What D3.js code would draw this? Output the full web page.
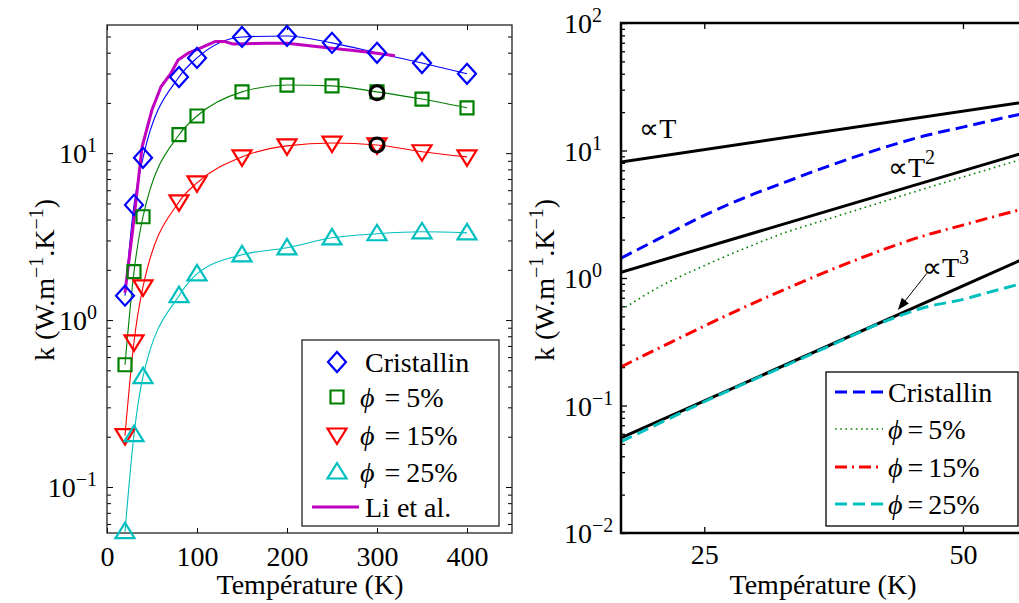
<!DOCTYPE html>
<html><head><meta charset="utf-8">
<script src="https://cdn.jsdelivr.net/npm/d3@7"></script>
<style>
body{margin:0;background:#fff;}
svg text{font-family:"Liberation Serif","Times New Roman",Times,serif;fill:#000;}
</style></head><body>
<script>
// ---------------- DATA ----------------
// Left panel: thermal conductivity vs temperature (markers)
const tempPoints = [20, 30, 40, 80, 100, 150, 200, 250, 300, 350, 400];
const kCristallin = [1.40, 4.90, 9.38, 28.6, 37.2, 49.7, 50.4, 45.8, 39.9, 34.7, 29.9];
const kPhi5  = [0.54, 1.95, 4.16, 12.9, 16.7, 23.3, 25.6, 25.3, 23.3, 21.1, 18.7];
const kPhi15 = [0.203, 0.741, 1.58, 5.11, 6.64, 9.50, 11.06, 11.5, 11.2, 10.2, 9.50];
const kPhi25 = [0.054, 0.206, 0.458, 1.40, 1.89, 2.46, 2.71, 3.11, 3.29, 3.38, 3.33];
// Li et al. reference curve
const liTemp = [20, 29, 39, 50, 60, 71, 79, 90, 103, 120, 131, 140, 177, 200, 250, 274, 300, 320];
const liK    = [1.46, 3.64, 10.9, 18.2, 25.0, 30.1, 36.2, 39.7, 42.5, 46.6, 46.6, 45.1, 45.6, 45.6, 42.5, 41.2, 39.7, 38.3];
// highlighted points (black circles)
const circleTemp = [300, 300];
const circleK = [23.0, 11.2];

// Right panel: low temperature model curves
const lowT = [20, 22, 25, 28, 31, 35, 40, 45, 50, 55, 60];
const lowCristallin = [1.43, 1.99, 3.10, 4.33, 5.62, 7.62, 10.29, 12.98, 15.26, 17.68, 20.1];
const lowPhi5  = [0.56, 0.829, 1.25, 1.73, 2.26, 2.93, 3.89, 4.99, 6.19, 7.53, 8.93];
const lowPhi15 = [0.201, 0.276, 0.420, 0.601, 0.813, 1.15, 1.63, 2.14, 2.60, 3.10, 3.61];
const lowPhi25 = [0.052, 0.0708, 0.107, 0.151, 0.204, 0.294, 0.44, 0.585, 0.68, 0.81, 0.943];
// power-law guides: k = k20 * (T/20)^n
const powerExp = [1, 2, 3];
const powerK20 = [8.13, 1.108, 0.0556];

// ticks / labels
const leftXTicks = [0, 100, 200, 300, 400];
const leftYMajor = [0.1, 1, 10];
const leftYExp = ["\u22121", "0", "1"];
const rightXTicks = [25, 50];
const rightYMajor = [0.01, 0.1, 1, 10, 100];
const rightYExp = ["\u22122", "\u22121", "0", "1", "2"];
const legendLeft = ["Cristallin", "5%", "15%", "25%", "Li et al."];
const legendRight = ["Cristallin", "5%", "15%", "25%"];
const xTitle = "Température (K)";

// ---------------- STYLE ----------------
const C = {blue:"#0000ff", green:"#008000", red:"#ff0000", cyan:"#00bfbf", mag:"#bf00bf"};
const FS = 28, SFS = 20;
const SERIF = '"Liberation Serif","Times New Roman",Times,serif';

const svg = d3.select("body").append("svg").attr("width", 1019).attr("height", 603)
  .attr("font-family", SERIF);

function minorTicks(domain) {
  const out = [];
  for (let e = -3; e <= 2; e++) for (let m = 2; m <= 9; m++) {
    const v = m * Math.pow(10, e);
    if (v >= domain[0] && v <= domain[1]) out.push(v);
  }
  return out;
}

// ---------------- LEFT PANEL ----------------
const xL = d3.scaleLinear().domain([0, 450]).range([107, 512]);
const yL = d3.scaleLog().domain([0.053, 58.6]).range([533, 25]);

const gL = svg.append("g");
gL.append("clipPath").attr("id", "clipL").append("rect")
  .attr("x", xL.range()[0]).attr("y", yL.range()[1])
  .attr("width", xL.range()[1] - xL.range()[0]).attr("height", yL.range()[0] - yL.range()[1]);

function styleAxis(g, w) {
  g.attr("font-family", SERIF);
  g.select(".domain").remove();
  g.selectAll(".tick line").attr("stroke", "#000").attr("stroke-width", w);
  g.selectAll("text").attr("font-size", FS).attr("font-family", SERIF).attr("fill", "#000");
}
[[d3.axisLeft, xL.range()[0]], [d3.axisRight, xL.range()[1]]].forEach(([ax, x]) => {
  gL.append("g").attr("transform", `translate(${x},0)`)
    .call(ax(yL).tickValues(minorTicks(yL.domain())).tickSize(-4).tickFormat(""))
    .call(g => styleAxis(g, 1));
  gL.append("g").attr("transform", `translate(${x},0)`)
    .call(ax(yL).tickValues(leftYMajor).tickSize(-6).tickFormat(""))
    .call(g => styleAxis(g, 1));
});
gL.append("g").attr("transform", `translate(0,${yL.range()[0]})`)
  .call(d3.axisBottom(xL).tickValues(leftXTicks).tickSize(-5).tickPadding(13).tickFormat(d3.format("d")))
  .call(g => styleAxis(g, 1));
gL.append("g").attr("transform", `translate(0,${yL.range()[1]})`)
  .call(d3.axisTop(xL).tickValues(leftXTicks).tickSize(-5).tickFormat(""))
  .call(g => styleAxis(g, 1));
leftYMajor.forEach((v, i) => {
  const t = gL.append("text").attr("x", 97).attr("y", yL(v) + 10).attr("text-anchor", "end").attr("font-size", FS);
  t.append("tspan").text("10");
  t.append("tspan").attr("dy", -11).attr("font-size", SFS).text(leftYExp[i]);
});
gL.append("rect").attr("x", xL.range()[0]).attr("y", yL.range()[1])
  .attr("width", xL.range()[1] - xL.range()[0]).attr("height", yL.range()[0] - yL.range()[1])
  .attr("fill", "none").attr("stroke", "#222").attr("stroke-width", 1.3);

const lineL = d3.line().x(d => xL(d[0])).y(d => yL(d[1])).curve(d3.curveMonotoneX);
const plotL = gL.append("g").attr("clip-path", "url(#clipL)");
const seriesL = [
  {k: kCristallin, c: C.blue, m: "diamond"},
  {k: kPhi5, c: C.green, m: "square"},
  {k: kPhi15, c: C.red, m: "triDown"},
  {k: kPhi25, c: C.cyan, m: "triUp"}
];
seriesL.forEach(s => {
  plotL.append("path").datum(tempPoints.map((t, i) => [t, s.k[i]]))
    .attr("d", lineL).attr("fill", "none").attr("stroke", s.c).attr("stroke-width", 1.1);
});
plotL.append("path").datum(liTemp.map((t, i) => [t, liK[i]]))
  .attr("d", d3.line().x(d => xL(d[0])).y(d => yL(d[1])))
  .attr("fill", "none").attr("stroke", C.mag).attr("stroke-width", 3).attr("stroke-linejoin", "round");

function markerPath(type, cx, cy) {
  switch (type) {
    case "diamond": return `M${cx},${cy - 10}L${cx + 9},${cy}L${cx},${cy + 10}L${cx - 9},${cy}Z`;
    case "square": return `M${cx - 6.5},${cy - 6.5}h13v13h-13Z`;
    case "triDown": return `M${cx - 9.5},${cy - 6.5}L${cx + 9.5},${cy - 6.5}L${cx},${cy + 9}Z`;
    case "triUp": return `M${cx - 9.5},${cy + 6.5}L${cx + 9.5},${cy + 6.5}L${cx},${cy - 9}Z`;
  }
}
seriesL.forEach(s => {
  gL.append("g").selectAll("path").data(tempPoints.map((t, i) => [t, s.k[i]])).join("path")
    .attr("d", d => markerPath(s.m, xL(d[0]), yL(d[1])))
    .attr("fill", "none").attr("stroke", s.c).attr("stroke-width", 2.2).attr("stroke-linejoin", "miter");
});
gL.append("g").selectAll("circle").data(circleTemp.map((t, i) => [t, circleK[i]])).join("circle")
  .attr("cx", d => xL(d[0])).attr("cy", d => yL(d[1])).attr("r", 7)
  .attr("fill", "none").attr("stroke", "#000").attr("stroke-width", 3);

gL.append("text").attr("x", 310).attr("y", 594).attr("text-anchor", "middle").attr("font-size", FS).text(xTitle);
function yTitle(g, x, y) {
  const t = g.append("text").attr("transform", `translate(${x},${y}) rotate(-90)`)
    .attr("text-anchor", "middle").attr("font-size", FS);
  t.append("tspan").text("k (W.m");
  t.append("tspan").attr("dy", -11).attr("font-size", SFS).text("\u22121");
  t.append("tspan").attr("dy", 11).text(".K");
  t.append("tspan").attr("dy", -11).attr("font-size", SFS).text("\u22121");
  t.append("tspan").attr("dy", 11).text(")");
}
yTitle(gL, 54, 280);

gL.append("rect").attr("x", 302).attr("y", 340).attr("width", 197).attr("height", 186)
  .attr("fill", "#fff").attr("stroke", "#222").attr("stroke-width", 1.3);
const legLY = [362, 397, 435, 472, 507];
seriesL.forEach((s, i) => {
  gL.append("path").attr("d", markerPath(s.m, 337, legLY[i]))
    .attr("fill", "none").attr("stroke", s.c).attr("stroke-width", 2.2);
  const t = gL.append("text").attr("x", i === 0 ? 365 : 360).attr("y", legLY[i] + 10).attr("font-size", FS);
  if (i === 0) t.text(legendLeft[0]);
  else {
    t.append("tspan").attr("font-style", "italic").text("\u03d5");
    t.append("tspan").attr("dx", 10).text("=");
    t.append("tspan").attr("dx", 6).text(legendLeft[i]);
  }
});
gL.append("line").attr("x1", 312).attr("x2", 359).attr("y1", legLY[4]).attr("y2", legLY[4])
  .attr("stroke", C.mag).attr("stroke-width", 3);
gL.append("text").attr("x", 365).attr("y", legLY[4] + 10).attr("font-size", FS).text(legendLeft[4]);

// ---------------- RIGHT PANEL ----------------
const xR = d3.scaleLog().domain([20, 60]).range([621, 1031]);
const yR = d3.scaleLog().domain([0.01, 100]).range([533, 23]);
const gR = svg.append("g");
gR.append("clipPath").attr("id", "clipR").append("rect")
  .attr("x", 621).attr("y", 23).attr("width", 410).attr("height", 510);

gR.append("g").attr("transform", `translate(${xR.range()[0]},0)`)
  .call(d3.axisLeft(yR).tickValues(minorTicks(yR.domain())).tickSize(-4).tickFormat(""))
  .call(g => styleAxis(g, 1.3));
gR.append("g").attr("transform", `translate(${xR.range()[0]},0)`)
  .call(d3.axisLeft(yR).tickValues(rightYMajor).tickSize(-6).tickFormat(""))
  .call(g => styleAxis(g, 1.3));
gR.append("g").attr("transform", `translate(0,${yR.range()[0]})`)
  .call(d3.axisBottom(xR).tickValues(rightXTicks).tickSize(-6).tickPadding(11).tickFormat(d3.format("d")))
  .call(g => styleAxis(g, 1.3));
gR.append("g").attr("transform", `translate(0,${yR.range()[1]})`)
  .call(d3.axisTop(xR).tickValues(rightXTicks).tickSize(-6).tickFormat(""))
  .call(g => styleAxis(g, 1.3));
rightYMajor.forEach((v, i) => {
  gR.append("text").attr("x", 592).attr("y", yR(v) + 10).attr("text-anchor", "end").attr("font-size", FS).text("10");
  gR.append("text").attr("x", 592).attr("y", yR(v) - 1).attr("font-size", SFS).text(rightYExp[i]);
});

const plotR = gR.append("g").attr("clip-path", "url(#clipR)");
const lineR = d3.line().x(d => xR(d[0])).y(d => yR(d[1])).curve(d3.curveMonotoneX);
powerExp.forEach((n, i) => {
  plotR.append("path").datum(xR.domain().map(T => [T, powerK20[i] * Math.pow(T / 20, n)]))
    .attr("d", d3.line().x(d => xR(d[0])).y(d => yR(d[1])))
    .attr("fill", "none").attr("stroke", "#000").attr("stroke-width", 3);
});
const seriesR = [
  {k: lowCristallin, c: C.blue, w: 3, dash: "12,6"},
  {k: lowPhi5, c: C.green, w: 1.6, dash: "1.6,3.6"},
  {k: lowPhi15, c: C.red, w: 3, dash: "12,5,2,5"},
  {k: lowPhi25, c: C.cyan, w: 3, dash: "12,6"}
];
seriesR.forEach(s => {
  plotR.append("path").datum(lowT.map((t, i) => [t, s.k[i]]))
    .attr("d", lineR).attr("fill", "none").attr("stroke", s.c)
    .attr("stroke-width", s.w).attr("stroke-dasharray", s.dash);
});
gR.append("rect").attr("x", 621).attr("y", 23).attr("width", 410).attr("height", 510)
  .attr("fill", "none").attr("stroke", "#000").attr("stroke-width", 2.5);

function powLabel(T, k, exp) {
  const t = gR.append("text").attr("x", xR(T)).attr("y", yR(k)).attr("font-size", FS);
  t.append("tspan").text("\u221dT");
  if (exp) t.append("tspan").attr("dy", -13).attr("font-size", SFS).text(exp);
}
powLabel(21.0, 12.5, null);
powLabel(40.9, 6.2, "2");
powLabel(44.8, 1.02, "3");
const arrowFrom = [45.4, 1.09], arrowTo = [42.0, 0.561];
const ax1 = xR(arrowFrom[0]), ay1 = yR(arrowFrom[1]), ax2 = xR(arrowTo[0]), ay2 = yR(arrowTo[1]);
const ang = Math.atan2(ay2 - ay1, ax2 - ax1);
gR.append("line").attr("x1", ax1).attr("y1", ay1).attr("x2", ax2 - 8 * Math.cos(ang)).attr("y2", ay2 - 8 * Math.sin(ang))
  .attr("stroke", "#000").attr("stroke-width", 1);
const hl = 12, hw = 4.5;
const bx = ax2 - hl * Math.cos(ang), by = ay2 - hl * Math.sin(ang);
gR.append("path").attr("d", `M${ax2},${ay2}L${bx + hw * Math.sin(ang)},${by - hw * Math.cos(ang)}L${bx - hw * Math.sin(ang)},${by + hw * Math.cos(ang)}Z`)
  .attr("fill", "#000");

gR.append("text").attr("x", 823).attr("y", 594).attr("text-anchor", "middle").attr("font-size", FS).text(xTitle);
yTitle(gR, 554, 280);

gR.append("rect").attr("x", 826).attr("y", 372).attr("width", 192).attr("height", 154)
  .attr("fill", "#fff").attr("stroke", "#000").attr("stroke-width", 1.3);
const legRY = [392, 429, 467, 504];
seriesR.forEach((s, i) => {
  gR.append("line").attr("x1", 835).attr("x2", 883).attr("y1", legRY[i]).attr("y2", legRY[i])
    .attr("stroke", s.c).attr("stroke-width", s.w).attr("stroke-dasharray", s.dash);
  const t = gR.append("text").attr("x", 888).attr("y", legRY[i] + 10).attr("font-size", FS);
  if (i === 0) t.text(legendRight[0]);
  else {
    t.append("tspan").attr("font-style", "italic").text("\u03d5");
    t.append("tspan").attr("dx", 5).text("=");
    t.append("tspan").attr("dx", 5).text(legendRight[i]);
  }
});
</script>
</body></html>
